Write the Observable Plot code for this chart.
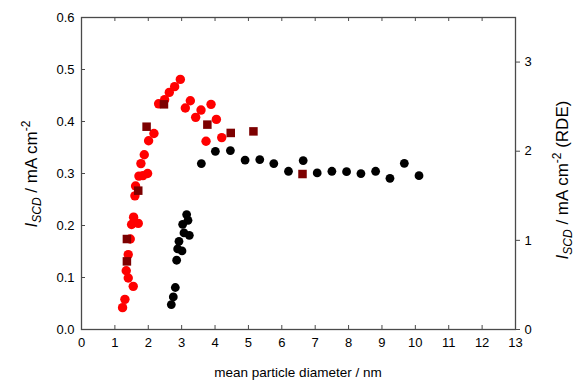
<!DOCTYPE html>
<html>
<head>
<meta charset="utf-8">
<script src="https://cdn.jsdelivr.net/npm/d3@7"></script>
<script src="https://cdn.jsdelivr.net/npm/@observablehq/plot@0.6"></script>
<style>
  html, body { margin: 0; padding: 0; background: #fff; }
  #chart { width: 576px; height: 381px; }
</style>
</head>
<body>
<div id="chart"></div>
<script>
// ---- data ----
const redX = [1.23,1.30,1.55,1.40,1.34,1.40,1.46,1.50,1.70,1.56,1.60,1.62,1.72,1.84,1.98,1.78,1.88,2.01,2.17,2.31,2.49,2.63,2.79,2.96,3.11,3.26,3.42,3.58,3.73,3.88,4.04,4.20];
const redY = [0.042,0.058,0.083,0.099,0.113,0.144,0.174,0.202,0.204,0.216,0.257,0.276,0.295,0.296,0.300,0.319,0.336,0.363,0.377,0.434,0.442,0.456,0.467,0.481,0.426,0.440,0.408,0.422,0.362,0.433,0.404,0.369];
const sqX = [1.36,1.36,1.70,1.95,2.47,3.77,4.47,5.15,6.62];
const sqY = [0.131,0.174,0.267,0.390,0.433,0.394,0.378,0.381,0.299];
const blkX = [2.69,2.75,2.81,2.85,2.88,3.01,2.92,3.07,3.23,3.03,3.19,3.15,3.59,4.01,4.46,4.90,5.34,5.76,6.20,6.64,7.06,7.50,7.94,8.37,8.81,9.24,9.67,10.11];
const blkYR = [0.280,0.365,0.471,0.777,0.904,0.881,0.989,1.083,1.057,1.180,1.225,1.289,1.861,1.999,2.007,1.901,1.906,1.861,1.775,1.895,1.756,1.775,1.771,1.749,1.775,1.696,1.864,1.726];
const xTicks = [0,1,2,3,4,5,6,7,8,9,10,11,12,13];
const yTicks = [0,0.1,0.2,0.3,0.4,0.5,0.6];
const rTicks = [0,1,2,3];
const yMax = 0.6, rMax = 3.5;
const k = yMax / rMax;

const red = redX.map((x,i)=>({x, y: redY[i]}));
const sq = sqX.map((x,i)=>({x, y: sqY[i]}));
const blk = blkX.map((x,i)=>({x, y: blkYR[i]*k}));

const W = 576, H = 381, mL = 81, mR = 61, mT = 17, mB = 52;
const pw = W - mL - mR, ph = H - mT - mB;
const axisColor = "#4a4a4a";

const chart = Plot.plot({
  width: W, height: H,
  marginLeft: mL, marginRight: mR, marginTop: mT, marginBottom: mB,
  x: {domain: [0, 13]},
  y: {domain: [0, yMax]},
  style: {fontFamily: "'Liberation Sans', Arial, sans-serif", fontSize: "13px", color: "#000", background: "#fff"},
  marks: [
    Plot.axisX({ticks: xTicks, tickSize: 0, tickPadding: 8, label: null, tickFormat: d => String(d)}),
    Plot.axisY({ticks: yTicks, tickSize: 0, tickPadding: 7, label: null, tickFormat: d3.format(".1f")}),
    Plot.axisY({anchor: "right", ticks: rTicks.map(v => v*k), tickSize: 4, tickPadding: 5, label: null,
      stroke: axisColor, tickFormat: d => String(Math.round(d / k))}),
    Plot.ruleX(xTicks, {x: d => d, insetTop: ph - 4, stroke: axisColor}),
    Plot.ruleX(xTicks, {x: d => d, insetBottom: ph - 4, stroke: axisColor}),
    Plot.ruleY(yTicks, {y: d => d, insetRight: pw - 4, stroke: axisColor}),
    Plot.frame({stroke: axisColor, strokeWidth: 1.3}),
    Plot.dot(blk, {x: "x", y: "y", r: 4.4, fill: "#000", stroke: "none"}),
    Plot.dot(red, {x: "x", y: "y", r: 4.7, fill: "#ff0000", stroke: "none"}),
    Plot.dot(sq, {x: "x", y: "y", r: 4.8, symbol: "square", fill: "#7d0000", stroke: "none"})
  ]
});
document.getElementById("chart").appendChild(chart);

const svg = d3.select(chart);
const font = "'Liberation Sans', Arial, sans-serif";

// x label
svg.append("text")
  .attr("x", (mL + W - mR) / 2).attr("y", 377)
  .attr("text-anchor", "middle")
  .style("font-family", font).style("font-size", "13.5px").attr("fill", "#000")
  .text("mean particle diameter / nm");

function yLabel(tx, ty, suffix) {
  const t = svg.append("text")
    .attr("transform", `translate(${tx},${ty}) rotate(-90)`)
    .attr("text-anchor", "middle")
    .style("font-family", font).style("font-size", "17px").attr("fill", "#000");
  t.append("tspan").style("font-style", "italic").text("I");
  t.append("tspan").style("font-style", "italic").style("font-size", "12px").attr("dy", 4).text("SCD");
  t.append("tspan").attr("dy", -4).text(" / mA cm");
  t.append("tspan").style("font-size", "12px").attr("dy", -7).text("-2");
  t.append("tspan").attr("dy", 7).text(suffix);
}
yLabel(37, 174, "");
yLabel(568, 180, " (RDE)");
</script>
</body>
</html>
